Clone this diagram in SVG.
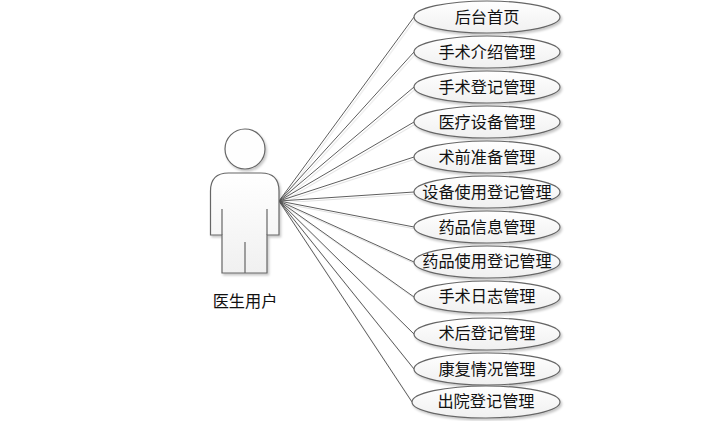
<svg xmlns="http://www.w3.org/2000/svg" width="712" height="421" viewBox="0 0 712 421">
<style>
.s{stroke:#666;stroke-width:1.2;fill:url(#g);filter:url(#sh)}
.h{fill:#fefefe}
.c line{stroke:#5e5e5e;stroke-width:1;filter:url(#ls)}
.i{stroke:#666;stroke-width:1.2;fill:none}
text{font-family:"Noto Sans CJK SC","Liberation Sans",sans-serif;font-size:16.200px;fill:#111;text-anchor:middle}
</style>
<defs>
<linearGradient id="g" x1="0" y1="0" x2="0" y2="1"><stop offset="0" stop-color="#fff"/><stop offset="1" stop-color="#f0f0f0"/></linearGradient>
<filter id="sh" x="-10%" y="-10%" width="125%" height="130%"><feDropShadow dx="1.500" dy="2" stdDeviation="1" flood-color="#000" flood-opacity=".22"/></filter>
<filter id="ls" x="-5%" y="-5%" width="110%" height="110%"><feDropShadow dx="1.500" dy="2" stdDeviation=".6" flood-color="#000" flood-opacity=".12"/></filter>
</defs>
<rect width="712" height="421" fill="#fff"/>
<g id="connectors" class="c">
<line x1="279" y1="201" x2="414" y2="17"/>
<line x1="279" y1="201" x2="414" y2="52"/>
<line x1="279" y1="201" x2="414" y2="87"/>
<line x1="279" y1="201" x2="414" y2="122"/>
<line x1="279" y1="201" x2="414" y2="157"/>
<line x1="279" y1="201" x2="414" y2="192"/>
<line x1="279" y1="201" x2="414" y2="227"/>
<line x1="279" y1="201" x2="414" y2="262"/>
<line x1="279" y1="201" x2="414" y2="297"/>
<line x1="279" y1="201" x2="414" y2="334"/>
<line x1="279" y1="201" x2="414" y2="369"/>
<line x1="279" y1="201" x2="412" y2="402"/>
</g>
<g id="actor">
<circle class="s h" cx="245" cy="149" r="20"/>
<path class="s" d="M210.500 235V191Q210.500 173 228.500 173H261Q279 173 279 191V235H267V273H222V235Z"/>
<path class="i" d="M222 209V235M267 209V235M245 242V273"/>
<text x="245" y="307">医生用户</text>
</g>
<g id="uc1"><ellipse class="s" cx="487" cy="17" rx="73" ry="16"/><text x="487" y="22.500">后台首页</text></g>
<g id="uc2"><ellipse class="s" cx="487" cy="52" rx="73" ry="16"/><text x="487" y="57.500">手术介绍管理</text></g>
<g id="uc3"><ellipse class="s" cx="487" cy="87" rx="73" ry="16"/><text x="487" y="92.500">手术登记管理</text></g>
<g id="uc4"><ellipse class="s" cx="487" cy="122" rx="73" ry="16"/><text x="487" y="127.500">医疗设备管理</text></g>
<g id="uc5"><ellipse class="s" cx="487" cy="157" rx="73" ry="16"/><text x="487" y="162.500">术前准备管理</text></g>
<g id="uc6"><ellipse class="s" cx="487" cy="192" rx="73" ry="16"/><text x="487" y="197.500">设备使用登记管理</text></g>
<g id="uc7"><ellipse class="s" cx="487" cy="227" rx="73" ry="16"/><text x="487" y="232.500">药品信息管理</text></g>
<g id="uc8"><ellipse class="s" cx="487" cy="262" rx="73" ry="16"/><text x="487" y="267">药品使用登记管理</text></g>
<g id="uc9"><ellipse class="s" cx="487" cy="297" rx="73" ry="16"/><text x="487" y="302">手术日志管理</text></g>
<g id="uc10"><ellipse class="s" cx="487" cy="334" rx="73" ry="16"/><text x="487" y="339">术后登记管理</text></g>
<g id="uc11"><ellipse class="s" cx="487" cy="369" rx="73" ry="16"/><text x="487" y="374.500">康复情况管理</text></g>
<g id="uc12"><ellipse class="s" cx="486" cy="402" rx="74" ry="16"/><text x="486" y="407">出院登记管理</text></g>
</svg>
